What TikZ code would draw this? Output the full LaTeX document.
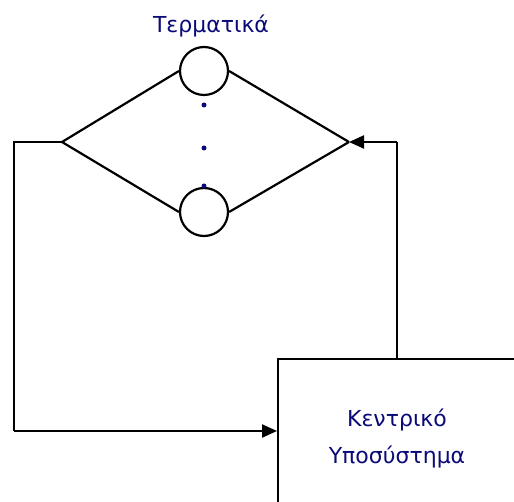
\documentclass[tikz,border=0pt]{standalone}
\usepackage{fontspec}
\setmainfont{DejaVu Sans}
\usetikzlibrary{arrows.meta}
\definecolor{navy}{RGB}{10,10,120}
\begin{document}
\begin{tikzpicture}[x=1pt,y=-1pt,
  line/.style={line width=2.2pt},
  arr/.style={line width=2.2pt,-{Triangle[length=15pt,width=13pt]}},
  term/.style={circle,draw,line width=2.2pt,minimum size=48pt,inner sep=0pt},
  dotn/.style={circle,fill=navy,minimum size=5pt,inner sep=0pt},
  lbl/.style={text=navy,font=\fontsize{22}{37}\selectfont,align=center}]
\useasboundingbox (0,0) rectangle (514,502);
\clip (0,0) rectangle (514,502);
\node[lbl] (title) at (211,26) {Τερματικά};
\node[term] (c1) at (204,71) {};
\node[term] (c2) at (204,212) {};
\node[dotn] (d1) at (204,105) {};
\node[dotn] (d2) at (204,148) {};
\node[dotn] (d3) at (204,186) {};
\coordinate (L) at (62,142);
\coordinate (R) at (349,142);
\coordinate (LL) at (14,142);
\coordinate (LB) at (14,431);
\coordinate (RT) at (397,142);
\node[draw,line width=2.2pt,minimum width=240pt,minimum height=162pt,anchor=north west,inner sep=0pt] (box) at (277,358) {};
\node[lbl] (boxtext) at (397,438) {Κεντρικό\\Υποσύστημα};
\draw[line] (L) -- (c1.west);
\draw[line] (R) -- (c1.east);
\draw[line] (L) -- (c2.west);
\draw[line] (R) -- (c2.east);
\draw[line] (L) -- (LL) -- (LB);
\draw[arr] (LB) -- (LB -| box.west);
\draw[line] (box.north -| RT) -- (RT);
\draw[arr] (RT) -- (R);
\end{tikzpicture}
\end{document}
